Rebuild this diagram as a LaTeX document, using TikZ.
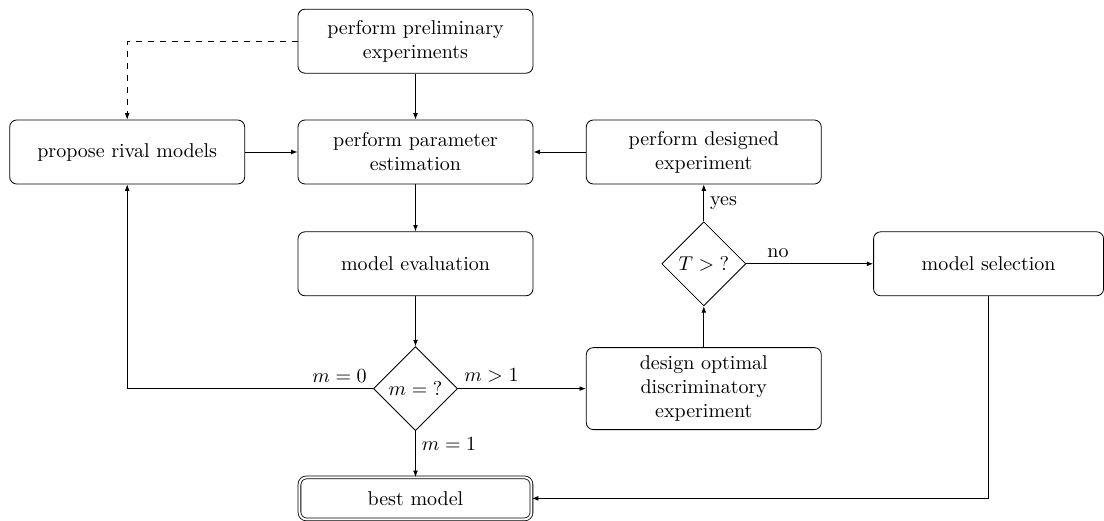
\documentclass[tikz,border=0pt]{standalone}
\usepackage{amsmath}
\usetikzlibrary{arrows.meta,positioning,shapes.geometric}
\tikzset{
  box/.style={draw,rounded corners=3.5pt,align=center,inner sep=4pt,
    minimum width=117.5pt,minimum height=32pt},
  bestbox/.style={box,double,double distance=1pt,minimum width=116pt,minimum height=21pt},
  decide/.style={draw,diamond,inner sep=0.5pt,minimum width=42pt,minimum height=42pt},
  flow/.style={-{Latex[length=3.2pt,width=2.4pt]}},
  tlabel/.style={inner sep=3pt},
}
\begin{document}
\begin{tikzpicture}[node distance=23pt and 26.25pt]
  \useasboundingbox (-207.75pt,-184pt) rectangle (344.25pt,76pt);
  \node[box](est){perform parameter\\estimation};
  \node[box,above=of est](prelim){perform preliminary\\experiments};
  \node[box,left=of est](rival){propose rival models};
  \node[box,right=of est](desexp){perform designed\\experiment};
  \node[box,below=23.5pt of est](evalm){model evaluation};
  \node[decide,below=25pt of evalm](mq){$m={?}$};
  \node[bestbox,below=23pt of mq](best){best model};
  \node[box,minimum height=41pt](dopt) at (desexp |- mq){design optimal\\discriminatory\\experiment};
  \node[decide](tq) at (desexp |- evalm){$T>{?}$};
  \node[box,minimum width=115pt,right=63.5pt of tq](msel){model selection};
  % loop back and forward
  \draw[flow,dashed](prelim.west)-|(rival.north);
  \draw[flow](prelim)--(est);
  \draw[flow](rival)--(est);
  \draw[flow](desexp)--(est);
  \draw[flow](est)--(evalm);
  \draw[flow](evalm)--(mq);
  \draw[flow](mq.west)-|node[tlabel,above left,pos=0]{$m=0$}(rival.south);
  \draw[flow](mq)--node[tlabel,above right,pos=0]{$m>1$}(dopt);
  \draw[flow](mq)--node[tlabel,below right,pos=0]{$m=1$}(best);
  \draw[flow](dopt)--(tq);
  \draw[flow](tq)--node[tlabel,right]{yes}(desexp);
  \draw[flow](tq)--node[tlabel,above,pos=0.25]{no}(msel);
  \draw[flow](msel)|-(best);
\end{tikzpicture}
\end{document}
